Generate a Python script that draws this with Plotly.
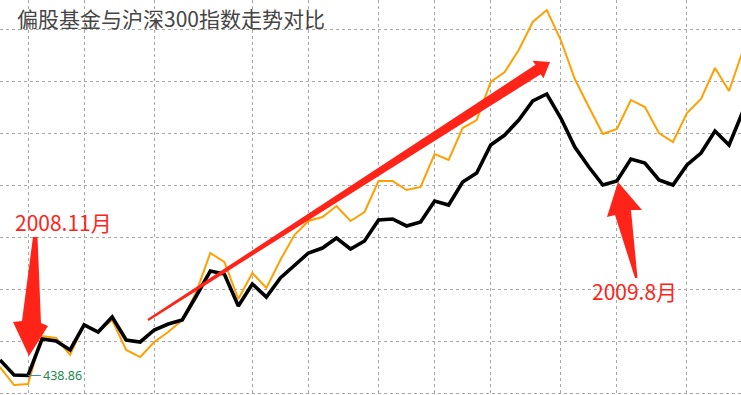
import plotly.graph_objects as go

# ---- data (weekly points) ----
weeks = list(range(54))
fund_index = [468.7, 439.8, 438.86, 509.0, 505.2, 487.9, 536.0, 522.5, 551.4, 507.1,
              503.3, 526.4, 537.9, 545.6, 591.7, 639.8, 634.0, 572.5, 614.8, 589.8,
              626.4, 649.4, 674.4, 684.0, 703.3, 682.1, 697.5, 737.9, 739.8, 726.4,
              734.0, 774.4, 766.7, 811.0, 828.3, 882.1, 901.3, 930.2, 966.8, 980.2,
              934.0, 878.3, 839.8, 805.2, 812.9, 855.2, 847.5, 814.8, 805.2, 843.7,
              866.7, 909.0, 882.1, 947.5]
hs300_index = [455.2, 420.6, 422.5, 514.8, 511.0, 478.3, 537.9, 522.5, 545.6, 487.9,
               474.4, 503.3, 522.5, 545.6, 599.4, 674.4, 657.1, 586.0, 636.0, 607.1,
               661.0, 709.0, 736.0, 743.7, 764.8, 736.0, 753.3, 812.9, 812.9, 795.6,
               801.4, 864.8, 853.3, 914.8, 930.2, 1003.3, 1022.5, 1064.8, 1118.7, 1141.7,
               1084.0, 1009.0, 955.2, 903.3, 912.9, 968.7, 955.2, 905.2, 887.9, 943.7,
               970.6, 1030.2, 986.0, 1064.8]
month_start_weeks = [2, 6, 11, 18, 22, 27, 31, 35, 40, 44, 49]
low_week = 2
low_value = 438.86

title_text = "偏股基金与沪深300指数走势对比"
label_nov = "2008.11月"
label_aug = "2009.8月"

W, H = 741, 395
RED = "#FF2318"

fig = go.Figure()
fig.add_trace(go.Scatter(x=weeks, y=hs300_index, mode="lines",
                         line=dict(color="#FFA000", width=2), hoverinfo="skip"))
fig.add_trace(go.Scatter(x=weeks, y=fund_index, mode="lines",
                         line=dict(color="#000000", width=3.6), hoverinfo="skip"))


def P(px, py):
    return px / W, 1 - py / H


def poly(points):
    parts = []
    for k, (px, py) in enumerate(points):
        x, y = P(px, py)
        parts.append(("M" if k == 0 else "L") + f"{x:.5f},{y:.5f}")
    return " ".join(parts) + " Z"


shapes = []
# diagonal up-trend arrow
shapes.append(dict(type="path", xref="paper", yref="paper", layer="above",
                   fillcolor=RED, line=dict(width=0),
                   path=poly([(148.6, 320.9), (147.4, 319.1), (535.5, 64.8), (532.5, 60.8),
                              (550, 62), (543.5, 78.2), (540.7, 74.2)])))
# down arrow (2008.11)
shapes.append(dict(type="path", xref="paper", yref="paper", layer="above",
                   fillcolor=RED, line=dict(width=0),
                   path=poly([(33, 237), (37.5, 237), (41, 323), (48, 326), (29, 356),
                              (13, 322), (22, 321)])))
# up arrow (2009.8)
shapes.append(dict(type="path", xref="paper", yref="paper", layer="above",
                   fillcolor=RED, line=dict(width=0),
                   path=poly([(635, 278), (615, 215), (607, 217), (618, 182), (642, 210),
                              (631, 210), (637.5, 278)])))

annotations = [
    dict(xref="paper", yref="paper", x=15 / W, y=1 - 18 / H, xanchor="left", yanchor="middle",
         text=title_text, showarrow=False,
         font=dict(family="Noto Sans CJK SC", size=21, color="#454545")),
    dict(xref="paper", yref="paper", x=63 / W, y=1 - 222 / H, xanchor="center", yanchor="middle",
         text=label_nov, showarrow=False,
         font=dict(family="Noto Sans CJK SC", size=21, color=RED)),
    dict(xref="paper", yref="paper", x=634 / W, y=1 - 291 / H, xanchor="center", yanchor="middle",
         text=label_aug, showarrow=False,
         font=dict(family="Noto Sans CJK SC", size=21, color=RED)),
    dict(x=low_week, y=low_value, xref="x", yref="y", text=f"{low_value:.2f}",
         showarrow=True, arrowhead=0, arrowwidth=1, arrowcolor="#3a8fa8",
         ax=34, ay=0, standoff=0,
         font=dict(family="Noto Sans", size=12.5, color="#1b8a4c")),
]

px_per_unit = 0.52
y_bottom = low_value - (395 - 375.5) / px_per_unit
y_top = low_value + 375.5 / px_per_unit
grid_tick0 = low_value - (393 - 375.5) / px_per_unit

fig.update_layout(
    width=W, height=H, margin=dict(l=0, r=0, t=0, b=0),
    paper_bgcolor="white", plot_bgcolor="white", showlegend=False,
    shapes=shapes, annotations=annotations,
    xaxis=dict(range=[0, W / 14.02], tickvals=month_start_weeks, showticklabels=False,
               showgrid=True, gridcolor="#a8a8a8", griddash="dot", gridwidth=1,
               zeroline=False, showline=False, ticks=""),
    yaxis=dict(range=[y_bottom, y_top], tick0=grid_tick0, dtick=100, showticklabels=False,
               showgrid=True, gridcolor="#a8a8a8", griddash="dot", gridwidth=1,
               zeroline=False, showline=False, ticks=""),
)

fig.write_html("out.html", config={"displayModeBar": False},
               post_script="document.body.style.margin='0';document.body.style.overflow='hidden';")
